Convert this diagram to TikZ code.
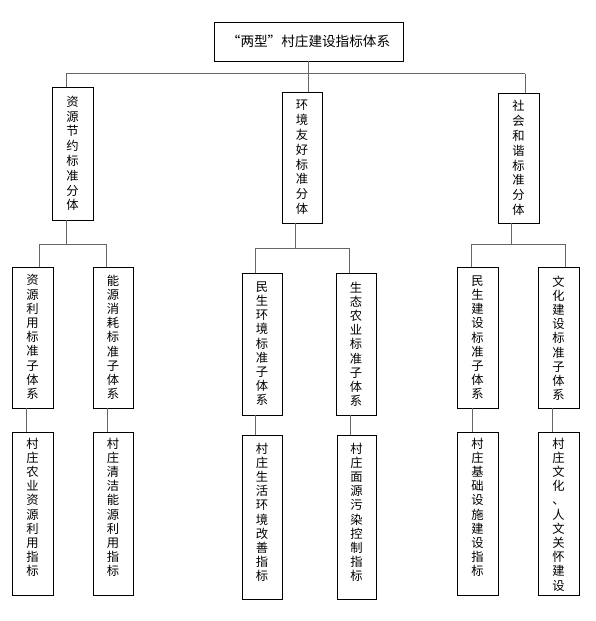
\documentclass[tikz,border=0pt]{standalone}
\usepackage{fontspec}
\newfontfamily\cjk{Noto Sans CJK SC}
\begin{document}
\begin{tikzpicture}[x=1bp,y=-1bp,
  box/.style={draw=black, line width=0.8bp, inner sep=0pt, outer sep=0pt, anchor=north west},
  conn/.style={draw=black!60, line width=1bp},
  vt/.style={font=\cjk\fontsize{12.3bp}{14.2bp}\selectfont, align=center, inner sep=0pt, anchor=north},
  vtc/.style={font=\cjk\fontsize{12.3bp}{14.8bp}\selectfont, align=center, inner sep=0pt},
]
\useasboundingbox (0,0) rectangle (596,621);
\fill[white] (0,0) rectangle (596,621);

% top
\node[box, minimum width=189bp, minimum height=39bp, font=\cjk\fontsize{13.6bp}{15bp}\selectfont] (T) at (214,22) {“两型”村庄建设指标体系};

% level 2
\node[box, minimum width=41bp, minimum height=133bp] (A) at (52,87) {};
\node[vtc] (At) at (A.center) {资\\源\\节\\约\\标\\准\\分\\体};
\node[box, minimum width=40bp, minimum height=131bp] (B) at (282,92) {};
\node[vtc] (Bt) at (B.center) {环\\境\\友\\好\\标\\准\\分\\体};
\node[box, minimum width=41bp, minimum height=130bp] (C) at (498,93) {};
\node[vtc] (Ct) at (C.center) {社\\会\\和\\谐\\标\\准\\分\\体};

% level 3
\node[box, minimum width=41bp, minimum height=141bp] (S1) at (12,267) {};
\node[box, minimum width=40bp, minimum height=141bp] (S2) at (93,267) {};
\node[box, minimum width=40bp, minimum height=142bp] (S3) at (242,273) {};
\node[box, minimum width=40bp, minimum height=142bp] (S4) at (336,273) {};
\node[box, minimum width=41bp, minimum height=141bp] (S5) at (457,267) {};
\node[box, minimum width=41bp, minimum height=141bp] (S6) at (538,267) {};
\node[vt] (S1t) at ([yshift=-7.5bp]S1.north) {资\\源\\利\\用\\标\\准\\子\\体\\系};
\node[vt] (S2t) at ([yshift=-7.5bp]S2.north) {能\\源\\消\\耗\\标\\准\\子\\体\\系};
\node[vt] (S3t) at ([yshift=-8.5bp]S3.north) {民\\生\\环\\境\\标\\准\\子\\体\\系};
\node[vt] (S4t) at ([yshift=-8.5bp]S4.north) {生\\态\\农\\业\\标\\准\\子\\体\\系};
\node[vt] (S5t) at ([yshift=-8.5bp]S5.north) {民\\生\\建\\设\\标\\准\\子\\体\\系};
\node[vt] (S6t) at ([yshift=-8.5bp]S6.north) {文\\化\\建\\设\\标\\准\\子\\体\\系};

% level 4
\node[box, minimum width=41bp, minimum height=163bp] (L1) at (12,432) {};
\node[box, minimum width=40bp, minimum height=163bp] (L2) at (93,432) {};
\node[box, minimum width=40bp, minimum height=164bp] (L3) at (242,435) {};
\node[box, minimum width=39bp, minimum height=164bp] (L4) at (337,435) {};
\node[box, minimum width=41bp, minimum height=163bp] (L5) at (457,432) {};
\node[box, minimum width=41bp, minimum height=163bp] (L6) at (538,432) {};
\node[vt] (L1t) at ([yshift=-5.5bp]L1.north) {村\\庄\\农\\业\\资\\源\\利\\用\\指\\标};
\node[vt] (L2t) at ([yshift=-5.5bp]L2.north) {村\\庄\\清\\洁\\能\\源\\利\\用\\指\\标};
\node[vt] (L3t) at ([yshift=-7.5bp]L3.north) {村\\庄\\生\\活\\环\\境\\改\\善\\指\\标};
\node[vt] (L4t) at ([yshift=-7.5bp]L4.north) {村\\庄\\面\\源\\污\\染\\控\\制\\指\\标};
\node[vt] (L5t) at ([yshift=-5.5bp]L5.north) {村\\庄\\基\\础\\设\\施\\建\\设\\指\\标};
\node[vt] (L6t) at ([yshift=-5.5bp]L6.north) {村\\庄\\文\\化\\、\\人\\文\\关\\怀\\建\\设};

% connectors: top level
\coordinate (h0a) at (66,74);
\coordinate (h0c) at (525,74);
\draw[conn] (T.south) -- (T.south |- h0a);
\draw[conn] (h0a) -- (h0c);
\draw[conn] (h0a) -- (h0a |- A.north);
\draw[conn] (T.south |- h0a) -- (T.south |- B.north);
\draw[conn] (h0c) -- (h0c |- C.north);

% group A
\coordinate (dA) at (66,0);
\coordinate (hAl) at (39,244);
\coordinate (hAr) at (106,244);
\draw[conn] (dA |- A.south) -- (dA |- hAl);
\draw[conn] (hAl) -- (hAr);
\draw[conn] (hAl) -- (hAl |- S1.north);
\draw[conn] (hAr) -- (hAr |- S2.north);

% group B
\coordinate (dB) at (295,0);
\coordinate (hBl) at (255,248);
\coordinate (hBr) at (349,248);
\draw[conn] (dB |- B.south) -- (dB |- hBl);
\draw[conn] (hBl) -- (hBr);
\draw[conn] (hBl) -- (hBl |- S3.north);
\draw[conn] (hBr) -- (hBr |- S4.north);

% group C
\coordinate (dC) at (511,0);
\coordinate (hCl) at (471,244);
\coordinate (hCr) at (565,244);
\draw[conn] (dC |- C.south) -- (dC |- hCl);
\draw[conn] (hCl) -- (hCr);
\draw[conn] (hCl) -- (hCl |- S5.north);
\draw[conn] (hCr) -- (hCr |- S6.north);

% level 3 to level 4
\coordinate (v1) at (26,0);
\coordinate (v2) at (107,0);
\coordinate (v3) at (255,0);
\coordinate (v4) at (350,0);
\coordinate (v5) at (472,0);
\coordinate (v6) at (552,0);
\draw[conn] (v1 |- S1.south) -- (v1 |- L1.north);
\draw[conn] (v2 |- S2.south) -- (v2 |- L2.north);
\draw[conn] (v3 |- S3.south) -- (v3 |- L3.north);
\draw[conn] (v4 |- S4.south) -- (v4 |- L4.north);
\draw[conn] (v5 |- S5.south) -- (v5 |- L5.north);
\draw[conn] (v6 |- S6.south) -- (v6 |- L6.north);
\end{tikzpicture}
\end{document}
